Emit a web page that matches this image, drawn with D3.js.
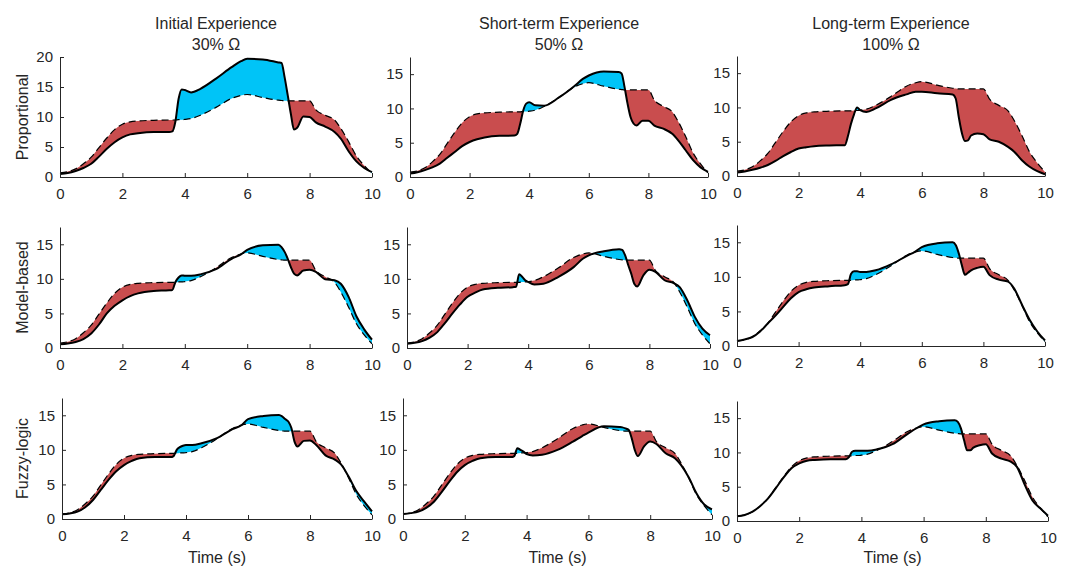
<!DOCTYPE html>
<html>
<head>
<meta charset="utf-8">
<script src="https://cdn.jsdelivr.net/npm/d3@7"></script>
<style>
  body { margin: 0; background: #fff; }
  svg { display: block; }
  text { font-family: "Liberation Sans", Arial, sans-serif; fill: #262626; }
</style>
</head>
<body>
<svg id="chart" width="1066" height="568"></svg>
<script>
// sample times (s), shared by every series
const time = [0, 0.25, 0.5, 0.75, 1, 1.25, 1.5, 1.75, 2, 2.25, 2.5, 3, 3.5, 3.6, 3.7, 3.8, 3.9, 4, 4.2, 4.5,
  5, 5.5, 5.8, 6, 6.5, 7, 7.1, 7.2, 7.3, 7.4, 7.5, 7.6, 7.8, 8, 8.2, 8.5, 8.8, 9, 9.25, 9.5, 9.75, 10];

// dashed reference trajectory (same in every panel)
const reference = [0.7, 0.9, 1.35, 2.2, 3.3, 4.9, 6.5, 7.9, 8.8, 9.2, 9.35, 9.45, 9.5, 9.5, 9.5, 9.55, 9.55, 9.6, 9.75, 10.3,
  11.6, 13.1, 13.6, 13.75, 13.25, 12.8, 12.75, 12.7, 12.7, 12.7, 12.7, 12.7, 12.7, 12.7, 11.2, 10.3, 9.5, 8.1, 5.9, 3.5, 1.9, 0.6];

// actual responses, one per controller / experience level
const propInitial = [0.5, 0.65, 1.0, 1.5, 2.2, 3.4, 4.7, 5.8, 6.6, 7.1, 7.3, 7.5, 7.5, 7.6, 9.3, 13.0, 14.6, 14.5, 14.1, 14.7,
  16.4, 18.3, 19.3, 19.7, 19.6, 19.1, 19.0, 16.6, 13.6, 10.5, 7.9, 8.2, 10.1, 10.0, 9.1, 8.4, 7.5, 6.4, 4.3, 2.6, 1.5, 0.8];
const propShort = [0.5, 0.7, 1.0, 1.4, 1.95, 2.8, 3.65, 4.5, 5.1, 5.5, 5.75, 6.0, 6.05, 6.3, 7.8, 9.7, 10.7, 10.9, 10.45, 10.4,
  11.6, 13.2, 14.3, 14.8, 15.4, 15.3, 15.1, 13.1, 10.7, 8.75, 7.8, 7.5, 8.2, 8.2, 7.5, 7.05, 6.3, 5.35, 3.9, 2.45, 1.4, 0.75];
const propLong = [0.5, 0.65, 0.9, 1.2, 1.6, 2.2, 2.9, 3.5, 4.0, 4.2, 4.35, 4.45, 4.5, 5.8, 7.6, 9.0, 10.0, 9.6, 9.35, 9.85,
  11.1, 11.9, 12.3, 12.3, 12.05, 11.9, 11.3, 8.6, 6.3, 5.1, 5.2, 5.9, 6.2, 6.1, 5.35, 5.0, 4.25, 3.55, 2.3, 1.35, 0.7, 0.25];

const modelInitial = [0.54, 0.65, 0.87, 1.3, 2.1, 3.4, 5.0, 6.1, 6.9, 7.5, 7.9, 8.25, 8.35, 8.4, 9.55, 10.2, 10.5, 10.45, 10.45, 10.65,
  11.4, 12.9, 13.55, 14.2, 14.85, 14.95, 14.6, 13.9, 12.9, 11.7, 10.75, 10.5, 11.2, 11.3, 11.0, 9.95, 9.8, 9.3, 7.4, 4.6, 2.7, 1.2];
const modelShort = [0.63, 0.75, 1.0, 1.5, 2.3, 3.6, 5.0, 6.3, 7.4, 8.0, 8.45, 8.7, 8.8, 8.85, 10.65, 10.3, 9.8, 9.55, 9.2, 9.3,
  10.3, 11.7, 12.9, 13.4, 14.0, 14.3, 14.2, 13.4, 12.0, 10.75, 9.3, 8.9, 10.5, 11.3, 11.0, 9.8, 9.4, 8.8, 6.9, 4.5, 2.8, 1.85];
const modelLong = [0.72, 0.95, 1.3, 2.1, 3.25, 4.4, 5.65, 6.9, 7.8, 8.2, 8.45, 8.65, 8.8, 8.95, 10.4, 10.8, 10.8, 10.7, 10.7, 10.95,
  11.8, 13.0, 13.7, 14.3, 14.85, 15.0, 14.6, 13.4, 11.7, 10.3, 10.6, 10.95, 11.3, 11.45, 10.25, 9.6, 9.3, 8.3, 6.0, 3.8, 2.1, 0.8];

const fuzzyInitial = [0.68, 0.8, 1.06, 1.7, 2.75, 4.2, 5.65, 6.9, 7.8, 8.4, 8.8, 8.95, 8.95, 9.1, 10.0, 10.4, 10.6, 10.7, 10.7, 10.95,
  11.7, 13.0, 13.6, 14.45, 14.9, 15.05, 14.85, 14.45, 14.1, 13.15, 11.2, 10.5, 11.3, 11.35, 10.7, 9.2, 8.6, 7.9, 6.1, 4.0, 2.5, 1.1];
const fuzzyShort = [0.72, 0.85, 1.06, 1.6, 2.5, 3.9, 5.4, 6.8, 7.8, 8.4, 8.8, 8.95, 8.95, 9.1, 10.25, 10.0, 9.75, 9.4, 9.2, 9.3,
  10.0, 11.2, 12.0, 12.5, 13.4, 13.3, 13.25, 13.1, 12.9, 11.7, 10.0, 9.1, 10.5, 11.2, 10.85, 9.5, 8.8, 7.8, 6.0, 3.7, 2.1, 1.4];
const fuzzyLong = [0.68, 0.88, 1.36, 2.2, 3.3, 4.8, 6.35, 7.7, 8.4, 8.8, 8.9, 9.0, 9.0, 9.3, 10.1, 10.25, 10.25, 10.25, 10.25, 10.45,
  11.2, 12.75, 13.6, 14.1, 14.55, 14.7, 14.45, 13.5, 11.8, 10.3, 10.3, 10.7, 11.05, 11.2, 9.85, 9.1, 8.65, 7.9, 5.3, 3.0, 1.85, 0.78];

const controllers = ['Proportional', 'Model-based', 'Fuzzy-logic'];
const experiences = ['Initial Experience', 'Short-term Experience', 'Long-term Experience'];
const omegaShares = ['30% Ω', '50% Ω', '100% Ω'];
const xTicks = [0, 2, 4, 6, 8, 10];
const yTicksTall = [0, 5, 10, 15, 20];
const yTicksShort = [0, 5, 10, 15];
const xLabel = 'Time (s)';

const responses = [
  [propInitial, propShort, propLong],
  [modelInitial, modelShort, modelLong],
  [fuzzyInitial, fuzzyShort, fuzzyLong]
];

// pixel box for each axes: [left, right, top, bottom]
const boxes = [
  [[60, 372, 57, 177], [410, 708, 57, 177], [737, 1045, 56, 176]],
  [[60, 372, 227, 348], [407, 710, 227, 348], [737, 1045, 225, 346]],
  [[62, 372, 398, 519], [403, 712, 398, 519], [737, 1048, 401, 521]]
];

const RED = '#c94d4e';
const CYAN = '#00c4f7';
const INK = '#262626';

const svg = d3.select('#chart');

responses.forEach((row, r) => {
  row.forEach((actual, c) => {
    const [left, right, top, bottom] = boxes[r][c];
    const tall = r === 0 && c === 0;
    const yMax = tall ? 20 : 17.5;
    const x = d3.scaleLinear().domain([0, 10]).range([left, right]);
    const y = d3.scaleLinear().domain([0, yMax]).range([bottom, top]);
    const g = svg.append('g');
    const id = `p${r}${c}`;

    // clip regions: below the reference curve and below the actual curve
    const below = vals => d3.area().curve(d3.curveMonotoneX)
      .x((d, i) => x(time[i])).y0(bottom + 20).y1(d => y(d))(vals);
    const above = vals => d3.area().curve(d3.curveMonotoneX)
      .x((d, i) => x(time[i])).y0(d => y(d)).y1(top - 20)(vals);

    const defs = g.append('defs');
    defs.append('clipPath').attr('id', `${id}-ref`).append('path').attr('d', below(reference));
    defs.append('clipPath').attr('id', `${id}-act`).append('path').attr('d', below(actual));

    // red where response is below reference, cyan where above
    g.append('path').attr('d', above(actual)).attr('fill', RED).attr('clip-path', `url(#${id}-ref)`);
    g.append('path').attr('d', above(reference)).attr('fill', CYAN).attr('clip-path', `url(#${id}-act)`);

    const line = d3.line().curve(d3.curveMonotoneX).x((d, i) => x(time[i])).y(d => y(d));
    g.append('path').attr('d', line(reference)).attr('fill', 'none')
      .attr('stroke', '#000').attr('stroke-width', 1.2).attr('stroke-dasharray', '7,4');
    g.append('path').attr('d', line(actual)).attr('fill', 'none')
      .attr('stroke', '#000').attr('stroke-width', 2).attr('stroke-linejoin', 'round');

    // axes
    const xAxis = g.append('g').attr('transform', `translate(0,${bottom})`)
      .call(d3.axisBottom(x).tickValues(xTicks).tickSizeInner(-4).tickSizeOuter(0).tickPadding(11));
    const yAxis = g.append('g').attr('transform', `translate(${left},0)`)
      .call(d3.axisLeft(y).tickValues(tall ? yTicksTall : yTicksShort).tickSizeInner(-4).tickSizeOuter(0).tickPadding(7));
    [xAxis, yAxis].forEach(a => {
      a.selectAll('path, line').attr('stroke', INK);
      a.selectAll('text').attr('font-size', 15).attr('font-family', '"Liberation Sans", Arial, sans-serif').attr('fill', INK);
    });

    if (r === 0) {
      const cx = (left + right) / 2;
      g.append('text').attr('x', cx).attr('y', 28.5).attr('text-anchor', 'middle')
        .attr('font-size', 16).text(experiences[c]);
      g.append('text').attr('x', cx).attr('y', 49.5).attr('text-anchor', 'middle')
        .attr('font-size', 16).text(omegaShares[c]);
    }
    if (c === 0) {
      const cy = (top + bottom) / 2;
      g.append('text').attr('transform', `translate(28,${cy}) rotate(-90)`)
        .attr('text-anchor', 'middle').attr('font-size', 16).text(controllers[r]);
    }
    if (r === 2) {
      g.append('text').attr('x', (left + right) / 2).attr('y', 563).attr('text-anchor', 'middle')
        .attr('font-size', 16).text(xLabel);
    }
  });
});
</script>
</body>
</html>
